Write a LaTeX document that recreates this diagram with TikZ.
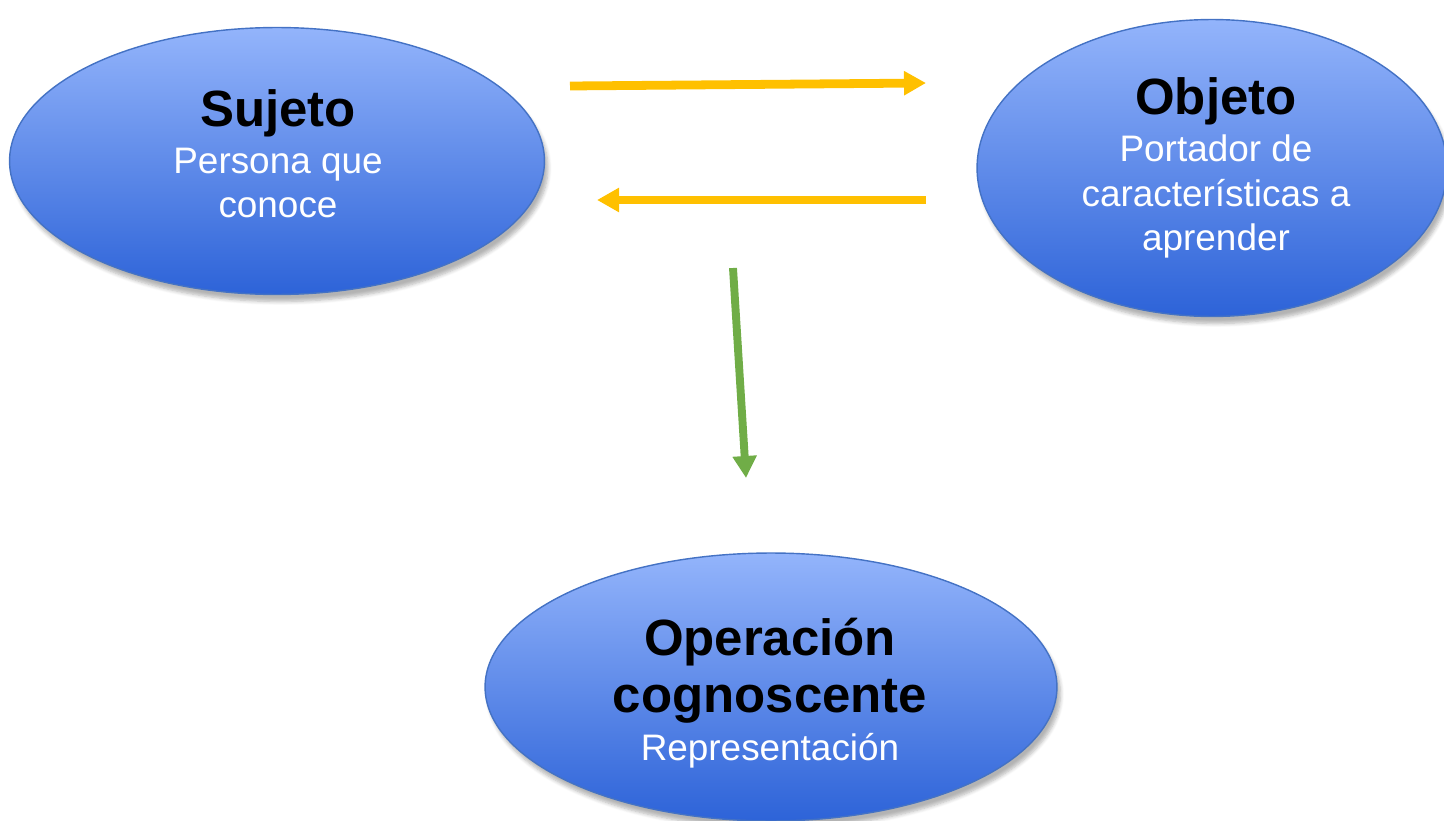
\documentclass[tikz,border=0pt]{standalone}
\usepackage{fontspec}
\setmainfont{Liberation Sans}
\usetikzlibrary{shapes.geometric,arrows.meta,shadows.blur}
\definecolor{ellTop}{HTML}{93B4FB}
\definecolor{ellBot}{HTML}{2D63D8}
\definecolor{ellLine}{HTML}{4472C4}
\definecolor{arrOrange}{HTML}{FFC000}
\definecolor{arrGreen}{HTML}{70AD47}
\newcommand{\titulo}[1]{{\fontsize{29}{32.4}\selectfont\bfseries\color{black}#1}}

\begin{document}
\begin{tikzpicture}[x=0.02cm,y=-0.02cm]
\tikzset{idea/.style = {shape=ellipse,draw=ellLine,line width=0.8pt,top color=ellTop,bottom color=ellBot,inner sep=0pt,blur shadow={shadow xshift=2pt,shadow yshift=-4pt,shadow blur steps=6,shadow opacity=30}}}
\tikzset{ideatext/.style = {align=center,inner sep=0pt,text=white,font=\fontsize{21}{25.3}\selectfont}}
\tikzset{arrow/.style = {-{Triangle[length=0.44cm,width=0.46cm]},line width=5pt}}
\useasboundingbox (0,0) rectangle (1444,821);
% vertices
\node[idea,minimum width=10.7cm,minimum height=5.34cm]  (sujeto)    at (277,161)  {};
\node[idea,minimum width=9.4cm,minimum height=5.94cm]   (objeto)    at (1212,168) {};
\node[idea,minimum width=11.44cm,minimum height=5.36cm] (operacion) at (771,687)  {};
% texts
\node[ideatext] (sujetoT)    at (278,154)  {\titulo{Sujeto}\\[1.4pt]Persona que\\conoce};
\node[ideatext] (objetoT)    at (1216,168) {\titulo{Objeto}\\[1.4pt]Portador de\\características a\\aprender};
\node[ideatext] (operacionT) at (770,693)  {\titulo{Operación}\\[7pt]\titulo{cognoscente}\\[2pt]Representación};
% free ends
\coordinate (ida1)    at (570,86);
\coordinate (ida2)    at (926,83);
\coordinate (vuelta1) at (926,200);
\coordinate (vuelta2) at (597,200);
\coordinate (baja1)   at (733,268);
\coordinate (baja2)   at (746,478);
% edges
\draw[arrow,arrOrange] (ida1) -- (ida2);
\draw[arrow,arrOrange] (vuelta1) -- (vuelta2);
\draw[arrow,arrGreen,line width=4.5pt] (baja1) -- (baja2);
\end{tikzpicture}
\end{document}
